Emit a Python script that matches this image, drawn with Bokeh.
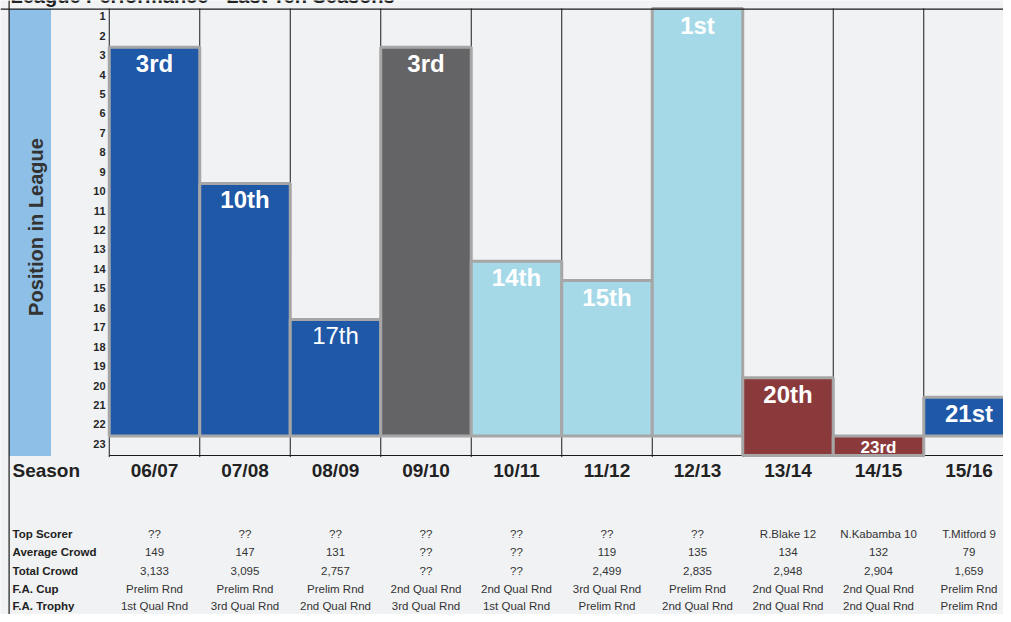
import math
from bokeh.plotting import figure
from bokeh.models import Range1d, ColumnDataSource, Span
from bokeh.core.properties import value
from bokeh.embed import file_html
from bokeh.resources import INLINE

# ---------------- data ----------------
seasons = ["06/07", "07/08", "08/09", "09/10", "10/11", "11/12", "12/13", "13/14", "14/15", "15/16"]
positions = [3, 10, 17, 3, 14, 15, 1, 20, 23, 21]
bar_floor = [22, 22, 22, 22, 22, 22, 22, 23, 23, 22]
league_group = ["A", "A", "A", "B", "C", "C", "C", "D", "D", "A"]
y_ticks = list(range(1, 24))

row_labels = ["Top Scorer", "Average Crowd", "Total Crowd", "F.A. Cup", "F.A. Trophy"]
top_scorer = ["??", "??", "??", "??", "??", "??", "??", "R.Blake 12", "N.Kabamba 10", "T.Mitford 9"]
average_crowd = ["149", "147", "131", "??", "??", "119", "135", "134", "132", "79"]
total_crowd = ["3,133", "3,095", "2,757", "??", "??", "2,499", "2,835", "2,948", "2,904", "1,659"]
fa_cup = ["Prelim Rnd", "Prelim Rnd", "Prelim Rnd", "2nd Qual Rnd", "2nd Qual Rnd",
          "3rd Qual Rnd", "Prelim Rnd", "2nd Qual Rnd", "2nd Qual Rnd", "Prelim Rnd"]
fa_trophy = ["1st Qual Rnd", "3rd Qual Rnd", "2nd Qual Rnd", "3rd Qual Rnd", "1st Qual Rnd",
             "Prelim Rnd", "2nd Qual Rnd", "2nd Qual Rnd", "2nd Qual Rnd", "Prelim Rnd"]
table_rows = [top_scorer, average_crowd, total_crowd, fa_cup, fa_trophy]

title_text = "League Performance - Last Ten Seasons"
axis_title = "Position in League"

# ---------------- styles / layout ----------------
W, H = 1003, 614
PX_PER_POS = 19.435
COL_PX = 90.5
FIRST_CENTER_PX = 154.0
PLOT_TOP_PX = 8.0
FONT = value("Liberation Sans")
group_colors = {"A": "#2058a8", "B": "#646466", "C": "#a6d9e7", "D": "#8b3a3c"}
label_weight = ["bold", "bold", "normal", "bold", "bold", "bold", "bold", "bold", "bold", "bold"]
BG = "#f1f2f4"
TABLE_ROW_PX = [533, 551.5, 570, 588, 605]


def xd(px):
    return (px - FIRST_CENTER_PX) / COL_PX


def yd(py):
    return 0.5 + (py - PLOT_TOP_PX) / PX_PER_POS


def ordinal(n):
    if 10 <= n % 100 <= 20:
        suf = "th"
    else:
        suf = {1: "st", 2: "nd", 3: "rd"}.get(n % 10, "th")
    return f"{n}{suf}"


p = figure(width=W, height=H,
           x_range=Range1d(xd(0), xd(W)), y_range=Range1d(yd(H), yd(0)),
           output_backend="svg", toolbar_location=None,
           x_axis_location=None, y_axis_location=None,
           min_border=0, background_fill_color=BG, border_fill_color=BG)
p.grid.visible = False
p.outline_line_color = None

n = len(seasons)
idx = list(range(n))

# title (only its lower edge shows above the frame, as in the reference)
p.text(x=[xd(10)], y=[yd(-4.5)], text=[title_text], text_align="left",
       text_baseline="alphabetic", text_font=FONT, text_font_size="20px",
       text_font_style="bold", text_color="#222222")

# side band with axis title
p.quad(left=[xd(9)], right=[xd(50)], top=[yd(9)], bottom=[23.5], color="#8ebfe7")
p.text(x=[xd(35)], y=[yd(226.5)], text=[axis_title], angle=math.pi / 2,
       text_align="center", text_baseline="middle", text_font=FONT,
       text_font_size="20px", text_font_style="bold", text_color="#333333")

# tick labels
p.text(x=[xd(105)] * len(y_ticks), y=[t - 0.1 for t in y_ticks], text=[str(t) for t in y_ticks],
       text_align="right", text_baseline="middle", text_font=FONT,
       text_font_size="11px", text_font_style="bold", text_color="#262626")

# column grid
bounds = [i - 0.5 for i in range(n + 1)]
p.segment(x0=bounds, y0=[0.5] * len(bounds), x1=bounds, y1=[23.58] * len(bounds),
          line_color="#1a1a1a", line_width=1)
p.segment(x0=[-0.5], y0=[23.5], x1=[n - 0.5], y1=[23.5], line_color="#1a1a1a", line_width=1)

# bars
tops = [pos - 0.5 for pos in positions]
bottoms = [f + 0.5 for f in bar_floor]
src = ColumnDataSource(dict(
    left=[i - 0.5 for i in idx], right=[i + 0.5 for i in idx],
    top=tops, bottom=bottoms,
    color=[group_colors[g] for g in league_group],
))
p.quad(left="left", right="right", top="top", bottom="bottom", source=src,
       fill_color="color", line_color="#a6a6a6", line_width=3)

# bar labels
for i in idx:
    short = (bottoms[i] - tops[i]) < 1.5
    size = "17px" if short else "24px"
    off = 11 if short else 16.5
    p.text(x=[i], y=[tops[i] + off / PX_PER_POS], text=[ordinal(positions[i])],
           text_align="center", text_baseline="middle", text_font=FONT,
           text_font_size=size, text_font_style=label_weight[i], text_color="white")

# season row
p.text(x=[xd(12)], y=[yd(470)], text=["Season"], text_align="left", text_baseline="middle",
       text_font=FONT, text_font_size="19px", text_font_style="bold", text_color="#222222")
p.text(x=idx, y=[yd(470)] * n, text=seasons, text_align="center", text_baseline="middle",
       text_font=FONT, text_font_size="19px", text_font_style="bold", text_color="#222222")

# table
for r, (lab, vals) in enumerate(zip(row_labels, table_rows)):
    yy = yd(TABLE_ROW_PX[r])
    p.text(x=[xd(12)], y=[yy], text=[lab], text_align="left", text_baseline="middle",
           text_font=FONT, text_font_size="11.5px", text_font_style="bold", text_color="#222222")
    p.text(x=idx, y=[yy] * n, text=vals, text_align="center", text_baseline="middle",
           text_font=FONT, text_font_size="11.5px", text_color="#333333")

# outer frame lines (top, left)
p.add_layout(Span(location=yd(8.6), dimension="width", line_color="#1a1a1a", line_width=1.2))
p.add_layout(Span(location=xd(8.6), dimension="height", line_color="#1a1a1a", line_width=1.2))

open("out.html", "w").write(file_html(p, INLINE))
